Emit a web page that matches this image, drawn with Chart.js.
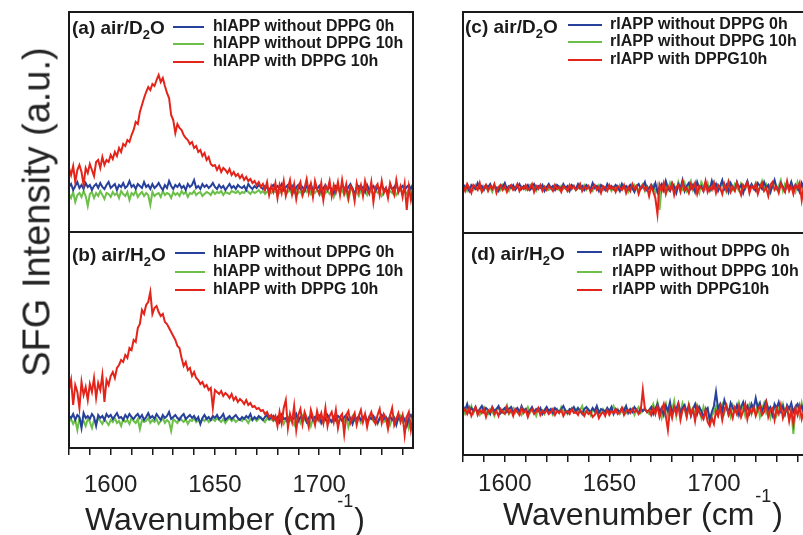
<!DOCTYPE html>
<html lang="en">
<head>
    <meta charset="UTF-8">
    <title>SFG spectra hIAPP / rIAPP</title>
    <script src="https://cdn.jsdelivr.net/npm/chart.js"></script>
    <style>
        body {
            margin: 0;
            width: 803px;
            height: 535px;
            overflow: hidden;
            background: #fff;
            position: relative;
            font-family: "Liberation Sans", Arial, sans-serif;
        }
        canvas { position: absolute; }
        #panelA { left: 0; top: 0; }
        #panelB { left: 0; top: 228px; }
        #panelC { left: 420px; top: 0; }
        #panelD { left: 420px; top: 228px; }
        .ytitle {
            position: absolute;
            left: 37px;
            top: 212px;
            transform: translate(-50%, -50%) rotate(-90deg);
            font-size: 38px;
            color: #222;
            white-space: nowrap;
        }
    </style>
</head>
<body>
    <canvas id="panelA" width="420" height="240"></canvas>
    <canvas id="panelB" width="420" height="307"></canvas>
    <canvas id="panelC" width="400" height="240"></canvas>
    <canvas id="panelD" width="400" height="307"></canvas>
    <div class="ytitle">SFG Intensity (a.u.)</div>

    <script>
        // wavenumber grid (cm-1), one value every wnStep
        const wnStart = 1580;
        const wnStep = 1;
        const xMin = 1580, xMax = 1745;
        const xTickLabels = [1600, 1650, 1700];

        const hLabels = ['hIAPP without DPPG 0h', 'hIAPP without DPPG 10h', 'hIAPP with DPPG 10h'];
        const rLabels = ['rIAPP without DPPG 0h', 'rIAPP without DPPG 10h', 'rIAPP with DPPG10h'];

        // (a) hIAPP air/D2O
        const hD2O_0h = [3,6,0,4,8,2,5,1,7,3, 5,0,4,6,2,7,3,1,5,8, 2,4,6,0,5,3,7,2,4,9, 3,5,1,6,4,2,8,3,5,1,
            6,2,4,7,3,0,5,2,9,4, 1,5,3,6,2,4,0,6,3,5, 10,2,4,1,6,3,5,2,4,7, 3,1,5,2,4,0,3,6,2,4,
            1,5,3,2,4,0,6,3,1,4, 2,5,3,1,4,2,0,3,5,1, 4,2,6,0,3,5,1,4,-2,3, 5,1,3,-1,4,2,6,0,3,1,
            4,-2,2,5,0,3,1,-3,4,2, 0,5,2,-1,3,6,1,-4,2,4, 1,3,-2,5,0,2,4,-1,3,1, 5,0,2,-3,4,1,3,6,-1,2,
            4,0,3,5,1,6];
        const hD2O_10h = [-4,-8,-2,-12,-5,-3,-7,-1,-6,-16, -4,-2,-8,-3,-6,-1,-5,-9,-3,-4, -7,-2,-5,-3,-8,-1,-4,-6,-2,-10,
            -3,-5,-1,-7,-4,-2,-6,-3,-5,-15, -2,-6,-4,-3,-7,-1,-5,-3,-4,-8, -2,-5,-3,-6,-1,-4,-2,-7,-3,-4,
            -1,-5,-3,-2,-6,-4,-2,-3,-5,-1, -4,-2,-3,-1,-5,-2,-3,-4,-1,-2, -3,-1,-4,-2,-3,0,-2,-4,-1,-3,
            -2,0,-3,-1,-4,-2,1,-3,-1,-2, 0,-3,-1,2,-4,-2,0,-5,-1,1, -3,-1,-6,0,-2,2,-4,-1,-3,0,
            -2,-5,1,-3,-1,-4,0,-7,-2,1, -3,0,-5,-2,-10,-1,2,-4,-2,-6, 0,-3,-1,-5,1,-2,-4,0,-3,-1,
            -6,-2,0,-4,-1,-3,1,-5,-2,0, -3,-1,-4,0,-2,-5];
        const hD2O_DPPG = [22,15,24,8,20,25,18,5,22,17, 26,20,14,28,30,22,33,25,30,28, 35,31,38,34,42,38,46,44,50,48,
            55,60,68,66,78,85,92,98,103,100, 106,104,110,115,108,112,104,97,92,75, 70,57,66,62,60,55,52,50,46,48,
            42,44,38,40,34,37,30,33,26,24, 25,20,24,18,22,20,17,21,15,18, 14,16,12,15,10,13,9,11,7,9,
            5,8,3,6,0,8,-5,4,-2,7, -8,5,-3,9,-6,2,10,-4,6,-9, 3,8,-5,2,11,-3,6,-7,9,1,
            -4,7,-10,4,0,9,-6,5,-2,8, -5,10,-3,6,-8,4,1,-11,7,-2, 5,-6,9,0,-4,8,-12,3,6,-5,
            9,-3,2,-8,7,1,-5,10,-2,4, -7,6,-20,3,-10,2];

        // (b) hIAPP air/H2O
        const hH2O_0h = [4,2,6,0,5,3,-8,7,2,4, 1,6,3,-6,5,2,4,0,6,3, 5,1,4,7,2,3,0,5,2,6, 3,1,4,6,2,5,0,3,7,2,
            4,1,6,3,0,5,2,4,8,1, 3,5,2,0,4,6,1,3,5,2, 4,0,3,-4,2,5,1,3,0,4, 2,5,1,3,6,0,2,4,1,3,
            5,2,0,3,1,4,2,6,0,3, 1,4,2,0,3,5,1,2,4,0, 3,-2,5,1,2,-3,4,0,2,6, -1,3,1,4,-2,2,5,0,3,1,
            4,-3,2,0,5,1,-2,3,0,4, 2,-1,3,5,0,2,-4,3,1,4, 0,2,5,-2,3,1,4,0,-3,2, 5,1,3,-2,4,0,2,-5,3,1,
            4,0,-6,2,5,1];
        const hH2O_10h = [-2,1,-4,0,-10,2,-3,-1,-6,1, -2,-8,0,-3,2,-1,-4,1,-2,-5, 0,-2,2,-3,-1,-6,1,-2,0,-4,
            2,-1,-3,1,-9,0,-2,-1,2,-3, 0,-2,1,-4,-1,2,-3,0,-2,-11, 1,-1,-3,2,0,-2,1,-4,0,-1,
            2,-2,0,-3,1,-1,2,-2,0,1, -1,2,0,-2,1,-3,0,2,-1,1, -2,0,1,-1,2,0,-3,1,0,2,
            -1,1,3,0,-2,2,0,1,-1,3, 0,-2,2,-4,1,3,-1,0,-5,2, 1,-3,4,0,-2,2,-6,1,3,-1,
            0,2,-3,1,4,-2,0,3,-1,-4, 2,0,-2,3,-7,1,4,-1,0,2, -3,1,3,-2,0,4,-1,2,-4,1,
            3,-2,0,2,-5,1,3,-1,0,4, -2,1,3,-8,0,2];
        const hH2O_DPPG = [30,40,15,35,28,12,38,25,33,20, 36,28,42,22,37,30,45,18,40,35, 44,48,42,52,55,60,58,65,62,72,
            70,80,78,92,96,110,106,115,118,128, 106,112,114,108,104,106,98,96,92,88, 84,80,74,72,62,54,58,50,52,44,
            48,42,40,36,38,33,35,30,32,12, 30,28,26,29,24,27,25,22,26,20, 23,18,21,19,16,20,15,17,13,14,
            11,12,9,10,6,8,3,5,0,4, -6,8,-3,12,20,-8,6,-2,14,-10, 5,11,-4,8,2,-7,10,3,-5,9,
            0,7,-3,12,-6,4,8,-2,10,-8, 3,6,-14,5,9,-3,2,7,-5,4, 10,-2,6,-7,3,8,0,-4,5,11,
            -3,6,2,-9,4,12,-5,1,7,-2, 5,-15,3,8,-10,2];

        // (c) rIAPP air/D2O
        const rD2O_0h = [4,0,2,-3,3,1,-1,5,0,2, -2,3,1,4,-1,2,0,-3,3,1, 5,-1,2,0,3,-2,1,4,-1,2, 0,3,-2,1,4,-1,2,0,3,-3,
            1,4,0,2,-2,3,1,-1,4,0, 2,-3,3,1,-1,4,0,2,-2,3, 1,-1,5,0,2,-3,3,1,-2,4, 0,2,-1,3,1,-3,4,0,2,-1,
            3,0,-4,2,4,-1,1,6,-2,0, 3,-1,5,-4,1,4,-2,7,0,-3, 5,1,-5,4,0,8,-3,2,5,-1, 3,-4,6,0,2,-3,5,1,-2,7,
            0,4,-3,2,8,-1,3,-4,5,1, -2,6,0,3,-5,2,7,-1,4,0, -3,5,2,-1,6,0,3,-4,2,8, 0,-2,5,1,-3,4,0,6,-2,3,
            1,-4,5,0,7,2];
        const rD2O_10h = [-1,2,-3,1,0,-2,3,-1,1,-3, 2,0,-2,1,-4,2,0,1,-2,3, -1,1,-3,2,0,-1,2,-2,0,1, -2,1,3,-1,0,-3,2,1,-1,2,
            0,-2,1,-1,3,0,-2,2,-1,1, -3,1,0,2,-2,1,-1,0,3,-2, 1,0,-3,2,-1,3,0,-2,1,-1, 2,-3,1,0,-2,3,-1,1,0,-4,
            2,-1,3,0,-2,1,4,-3,2,-1, 0,3,-5,2,-22,1,-3,4,-2,5, -1,3,-4,6,0,-2,5,-3,2,7, -2,4,0,-5,6,2,-1,5,-3,1,
            6,-2,3,-1,5,0,-4,7,1,-2, 4,0,-3,5,2,-1,6,-2,3,0, 5,-3,1,7,-2,4,0,-5,3,6, -1,2,8,-3,4,0,-2,5,1,-4,
            6,0,3,-2,9,-6];
        const rD2O_DPPG = [2,-3,4,0,-5,3,1,-2,5,-4, 0,3,-3,2,-1,4,-5,1,3,-2, 2,-4,1,3,-2,0,4,-3,1,-1, 3,-2,0,4,-4,2,-1,3,-3,1,
            -2,2,0,-3,3,-1,1,-4,2,0, -3,3,-1,2,-2,0,4,-3,1,-1, 2,-4,0,3,-2,1,-5,2,0,-3, 3,-1,1,-4,2,0,-2,3,-5,1,
            -3,4,-1,2,-6,0,3,-2,1,-8, 2,-4,-10,-26,3,-3,5,-6,2,-2, 4,-7,1,3,-4,6,-2,0,-5,4, -1,5,-6,2,0,-3,7,-4,1,-2,
            5,-5,3,0,-6,4,-2,6,-4,1, -3,5,-1,-7,3,0,6,-5,2,-1, 4,-6,1,5,-3,0,-8,3,6,-2, 1,-5,4,0,-4,7,-3,2,-6,3,
            -1,5,-12,2,-4,6];

        // (d) rIAPP air/H2O
        const rH2O_0h = [6,2,8,0,4,1,5,-1,3,6, 0,4,2,-2,5,1,3,6,-1,2, 4,0,3,5,-1,2,4,0,6,1, 3,-1,2,5,0,3,1,4,-2,2,
            5,1,3,-1,4,2,0,3,6,1, -1,3,2,5,0,4,1,-2,3,5, 2,0,4,1,6,-1,3,2,0,4, 1,5,-2,3,2,0,4,1,6,-1,
            3,0,5,2,-1,4,1,3,0,2, 5,-2,3,8,0,4,-3,6,1,10, -2,5,3,9,-1,4,7,0,6,-4, 3,8,-2,5,1,-6,2,4,-8,0,
            6,20,3,8,0,12,5,-2,9,4, 1,7,-3,5,10,2,6,-1,8,3, 14,4,9,0,6,11,2,5,-3,8, 4,10,1,6,-2,7,3,9,0,5,
            8,2,6,-1,4,7];
        const rH2O_10h = [2,-2,4,0,6,-1,3,1,-3,2, 5,0,-2,3,1,-4,2,4,0,-1, 3,7,-2,1,4,-1,2,0,-3,3, 1,5,-1,2,0,-4,3,1,2,-2,
            4,0,2,-3,1,3,-1,5,0,2, -2,1,4,0,3,-1,2,6,-2,1, 3,-3,2,0,5,1,-2,3,0,4, -1,2,6,0,3,-2,1,4,-1,2,
            0,3,-3,2,5,-1,1,4,0,-2, 3,8,-1,10,2,-6,5,9,-3,7, 2,11,-4,6,0,9,3,-5,8,1, 4,-3,7,2,-6,5,-2,3,-9,-4,
            0,6,-3,4,8,-1,5,2,-5,7, 3,-2,9,1,6,-4,4,8,-2,5, 0,7,-5,3,9,-1,4,-6,2,6, -3,5,1,8,-2,4,-7,2,-22,3,
            6,-4,9,0,-8,3];
        const rH2O_DPPG = [0,3,-2,4,-4,1,5,-3,2,-1, 3,-5,2,0,4,-2,1,-4,3,0, -2,5,-1,2,-4,3,0,-3,4,-1, 2,-5,1,3,-2,0,4,-3,1,-1,
            2,-2,0,3,-3,1,-1,2,-4,0, 1,-2,3,-1,0,-3,2,-1,-4,1, -2,0,-5,-3,1,-6,-2,0,-4,2, -3,1,-1,3,-2,0,4,-3,1,2,
            -1,3,0,2,-2,1,22,3,0,2, -3,4,-2,6,-5,2,8,-4,-18,3, -6,5,-2,7,-8,2,4,-5,6,-3, 3,-9,5,0,-4,-7,2,-10,-14,-6,
            -12,1,-4,5,-8,3,7,-3,2,-6, 4,-2,6,-5,1,8,-7,3,-1,5, -4,2,6,-3,0,9,-5,2,4,-8, 3,-2,7,-6,1,5,-9,2,-12,4,
            -3,6,-7,1,8,-4];

        const colors = ['#27409b', '#6cc04a', '#e3241b'];
        const FONT = '"Liberation Sans", Arial, sans-serif';

        // legend / label / frame settings per canvas (canvas coordinates)
        const deco = {
            panelA: { tag: [['(a) air/D', 0], ['2', 1], ['O', 0]], tagX: 72, tagY: 29, rows: [27, 44, 62], lineX: [173, 204], textX: 213 },
            panelB: { tag: [['(b) air/H', 0], ['2', 1], ['O', 0]], tagX: 72, tagY: 28, rows: [25, 44, 62], lineX: [175, 205], textX: 213, titleX: 85, titleY: 302 },
            panelC: { tag: [['(c) air/D', 0], ['2', 1], ['O', 0]], tagX: 45, tagY: 28, rows: [25, 42, 60], lineX: [148, 182], textX: 190 },
            panelD: { tag: [['(d) air/H', 0], ['2', 1], ['O', 0]], tagX: 51, tagY: 27, rows: [24, 44, 62], lineX: [157, 182], textX: 192, titleX: 83, titleY: 297 }
        };

        const decoPlugin = {
            id: 'deco',
            afterDraw(chart) {
                const o = deco[chart.canvas.id];
                const ctx = chart.ctx, a = chart.chartArea;
                ctx.save();
                ctx.strokeStyle = '#1a1a1a';
                ctx.lineWidth = 2;
                ctx.strokeRect(a.left, a.top, a.right - a.left, a.bottom - a.top);

                ctx.fillStyle = '#1a1a1a';
                ctx.textAlign = 'left';
                ctx.textBaseline = 'middle';
                let x = o.tagX;
                o.tag.forEach(([t, sub]) => {
                    ctx.font = 'bold ' + (sub ? 13 : 19) + 'px ' + FONT;
                    ctx.fillText(t, x, o.tagY + (sub ? 6 : 0));
                    x += ctx.measureText(t).width;
                });

                chart.data.datasets.forEach((ds, i) => {
                    const y = o.rows[i];
                    ctx.strokeStyle = ds.borderColor;
                    ctx.lineWidth = 2;
                    ctx.beginPath();
                    ctx.moveTo(o.lineX[0], y);
                    ctx.lineTo(o.lineX[1], y);
                    ctx.stroke();
                    ctx.font = 'bold 16px ' + FONT;
                    ctx.fillText(ds.label, o.textX, y);
                });

                // x title with superscript
                if (o.titleX !== undefined) {
                    ctx.fillStyle = '#222';
                    ctx.textBaseline = 'alphabetic';
                    let tx = o.titleX;
                    ctx.font = '32px ' + FONT;
                    ctx.fillText('Wavenumber (cm', tx, o.titleY);
                    tx += ctx.measureText('Wavenumber (cm').width + 1;
                    ctx.font = '18px ' + FONT;
                    ctx.fillText('-1', tx, o.titleY - 23);
                    tx += ctx.measureText('-1').width + 1;
                    ctx.font = '32px ' + FONT;
                    ctx.fillText(')', tx, o.titleY);
                }
                ctx.restore();
            }
        };

        function toPoints(vals) {
            return vals.map((v, i) => ({ x: wnStart + i * wnStep, y: v }));
        }

        function makePanel(id, labels, series, p) {
            const datasets = series.map((s, i) => ({
                label: labels[i],
                data: toPoints(s),
                borderColor: colors[i],
                borderWidth: 2,
                pointRadius: 0,
                tension: 0,
                order: [1, 2, 0][i]
            }));
            return new Chart(document.getElementById(id), {
                type: 'line',
                data: { datasets: datasets },
                plugins: [decoPlugin],
                options: {
                    responsive: false,
                    animation: false,
                    events: [],
                    layout: { padding: p.pad },
                    plugins: { legend: { display: false }, tooltip: { enabled: false } },
                    scales: {
                        x: {
                            type: 'linear',
                            min: xMin,
                            max: xMax,
                            display: p.showX,
                            afterFit: (s) => { if (p.showX) s.height = p.axisH; },
                            border: { display: false },
                            grid: { display: true, drawOnChartArea: false, drawTicks: true, tickLength: 7, color: '#1a1a1a', lineWidth: 1.5 },
                            ticks: {
                                stepSize: 10,
                                includeBounds: false,
                                autoSkip: false,
                                maxRotation: 0,
                                padding: p.tickPad,
                                color: '#222',
                                font: { family: FONT, size: 24 },
                                callback: (v) => xTickLabels.includes(v) ? String(v) : ''
                            }
                        },
                        y: { display: false, min: p.yMin, max: p.yMax }
                    }
                }
            });
        }

        makePanel('panelA', hLabels, [hD2O_0h, hD2O_10h, hD2O_DPPG],
            { pad: { left: 69, top: 12, right: 7, bottom: 8 }, showX: false, yMin: -42, yMax: 178 });
        makePanel('panelB', hLabels, [hH2O_0h, hH2O_10h, hH2O_DPPG],
            { pad: { left: 69, top: 4, right: 7, bottom: 0 }, showX: true, axisH: 87, tickPad: 16, yMin: -28, yMax: 188 });
        makePanel('panelC', rLabels, [rD2O_0h, rD2O_10h, rD2O_DPPG],
            { pad: { left: 43, top: 12, right: 12, bottom: 7 }, showX: false, yMin: -45, yMax: 176 });
        makePanel('panelD', rLabels, [rH2O_0h, rH2O_10h, rH2O_DPPG],
            { pad: { left: 43, top: 5, right: 12, bottom: 0 }, showX: true, axisH: 80, tickPad: 8, yMin: -43, yMax: 179 });
    </script>
</body>
</html>
